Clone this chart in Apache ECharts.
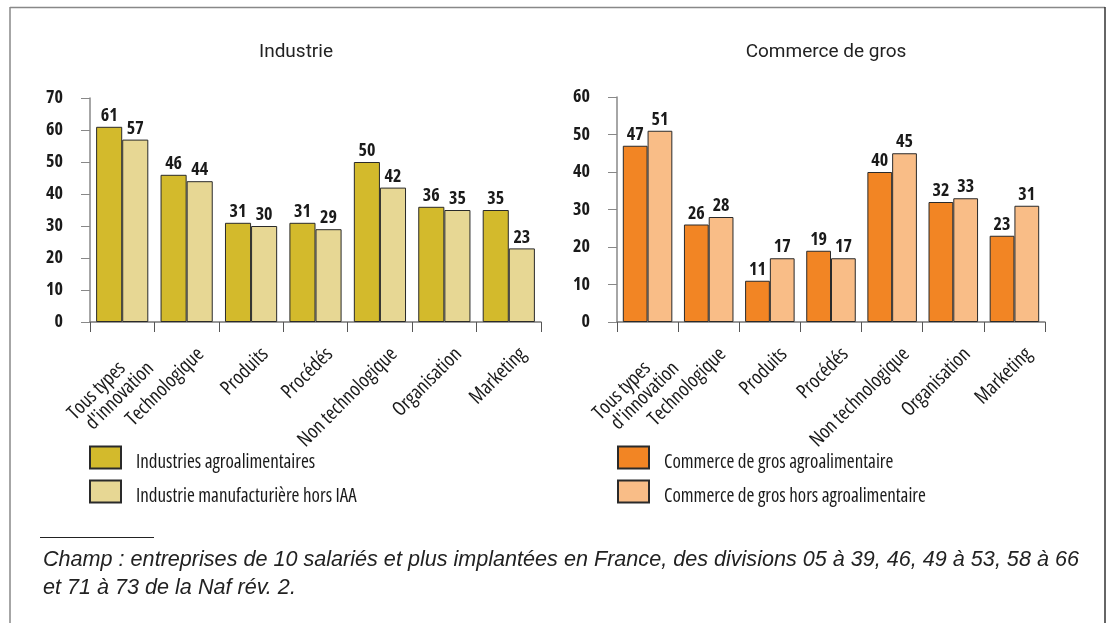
<!DOCTYPE html>
<html><head><meta charset="utf-8">
<script src="https://cdn.jsdelivr.net/npm/echarts@6/dist/echarts.min.js"></script>
<style>html,body{margin:0;padding:0;background:#fff}#c{width:1110px;height:623px}</style>
</head><body><div id="c"></div>
<script>
const categories = ["Tous types\nd'innovation", "Technologique", "Produits", "Procédés", "Non technologique", "Organisation", "Marketing"];
const industryTitle = "Industrie";
const commerceTitle = "Commerce de gros";
const iaaName = "Industries agroalimentaires";
const horsIaaName = "Industrie manufacturière hors IAA";
const iaaValues = [61, 46, 31, 31, 50, 36, 35];
const horsIaaValues = [57, 44, 30, 29, 42, 35, 23];
const cgAgroName = "Commerce de gros agroalimentaire";
const cgHorsName = "Commerce de gros hors agroalimentaire";
const cgAgroValues = [47, 26, 11, 19, 40, 32, 23];
const cgHorsValues = [51, 28, 17, 17, 45, 33, 31];
const leftTicks = {min: 0, max: 70, interval: 10};
const rightTicks = {min: 0, max: 60, interval: 10};
const footnote = "Champ : entreprises de 10 salariés et plus implantées en France, des divisions 05 à 39, 46, 49 à 53, 58 à 66\net 71 à 73 de la Naf rév. 2.";

const COND = '"Open Sans", sans-serif';
const chart = echarts.init(document.getElementById('c'), null, {renderer: 'canvas'});

// empty leading lines push the rotated label off its anchor like in the reference;
// lines of a multi-line label are centred on each other in the reference
function catLabel(v) {
  const lines = v.split('\n');
  if (lines.length > 1) {
    return '\n\n\n' + lines.map((l, i) => i === 0 ? l + '\u2002\u2002' : l).join('\n');
  }
  return '\n\n' + v;
}

function xAxis(gi) {
  return {
    type: 'category', gridIndex: gi, data: categories,
    axisLine: {lineStyle: {color: '#777', width: 1.5}},
    axisTick: {show: true, length: 10, lineStyle: {color: '#555'}},
    axisLabel: {
      rotate: 45, margin: 15, interval: 0,
      fontFamily: COND, fontWeight: '500 condensed', fontSize: 20, lineHeight: 20, color: '#1a1a1a',
      formatter: catLabel
    }
  };
}
function yAxis(gi, t) {
  return {
    type: 'value', gridIndex: gi, min: t.min, max: t.max, interval: t.interval,
    splitLine: {show: false},
    axisLine: {show: true, lineStyle: {color: '#888', width: 1.5}},
    axisTick: {show: true, length: 9, lineStyle: {color: '#888'}},
    axisLabel: {margin: 27, fontFamily: COND, fontWeight: 'bold condensed', fontSize: 18, color: '#1a1a1a'}
  };
}
function bar(name, data, gi, color) {
  return {
    name, type: 'bar', data, xAxisIndex: gi, yAxisIndex: gi,
    barGap: '0%', barCategoryGap: '19%',
    itemStyle: {color, borderColor: '#2a2a2a', borderWidth: 1},
    label: {show: true, position: 'top', distance: 2, fontFamily: COND, fontWeight: 'bold condensed', fontSize: 18, color: '#1a1a1a'},
    emphasis: {disabled: true}
  };
}
function legend(names, left) {
  return {
    data: names, orient: 'vertical', left, top: 443, padding: 0,
    itemWidth: 31, itemHeight: 22, itemGap: 5, icon: 'rect', selectedMode: false,
    formatter: n => '\n' + n,
    textStyle: {fontFamily: COND, fontWeight: '500 condensed', fontSize: 19, lineHeight: 10, color: '#1a1a1a', padding: [0, 0, 0, 10]}
  };
}

chart.setOption({
  animation: false,
  title: [
    {text: industryTitle, left: 291, top: 38, textAlign: 'center', textStyle: {fontFamily: 'Roboto', fontWeight: 'normal', fontSize: 19, color: '#222'}},
    {text: commerceTitle, left: 821, top: 38, textAlign: 'center', textStyle: {fontFamily: 'Roboto', fontWeight: 'normal', fontSize: 19, color: '#222'}}
  ],
  grid: [
    {left: 90, top: 98, width: 451, height: 224},
    {left: 617, top: 97, width: 428, height: 225}
  ],
  xAxis: [xAxis(0), xAxis(1)],
  yAxis: [yAxis(0, leftTicks), yAxis(1, rightTicks)],
  legend: [legend([iaaName, horsIaaName], 89), legend([cgAgroName, cgHorsName], 617)],
  series: [
    bar(iaaName, iaaValues, 0, '#D3BA2C'),
    bar(horsIaaName, horsIaaValues, 0, '#E7D794'),
    bar(cgAgroName, cgAgroValues, 1, '#F28524'),
    bar(cgHorsName, cgHorsValues, 1, '#F9BD87')
  ],
  graphic: [
    {type: 'line', shape: {x1: 10, y1: 7.5, x2: 1105, y2: 7.5}, style: {stroke: '#888', lineWidth: 1.5}, silent: true},
    {type: 'line', shape: {x1: 10, y1: 7, x2: 10, y2: 640}, style: {stroke: '#888', lineWidth: 1.5}, silent: true},
    {type: 'line', shape: {x1: 1105, y1: 7, x2: 1105, y2: 640}, style: {stroke: '#333', lineWidth: 1.5}, silent: true},
    {type: 'line', shape: {x1: 40, y1: 537.5, x2: 154, y2: 537.5}, style: {stroke: '#222', lineWidth: 1}, silent: true},
    {type: 'text', left: 43, top: 546, silent: true,
     style: {text: footnote, fontFamily: '"Liberation Sans", Arial, sans-serif', fontStyle: 'italic', fontSize: 21.6, lineHeight: 28, fill: '#222'}}
  ]
});
</script>
</body></html>
